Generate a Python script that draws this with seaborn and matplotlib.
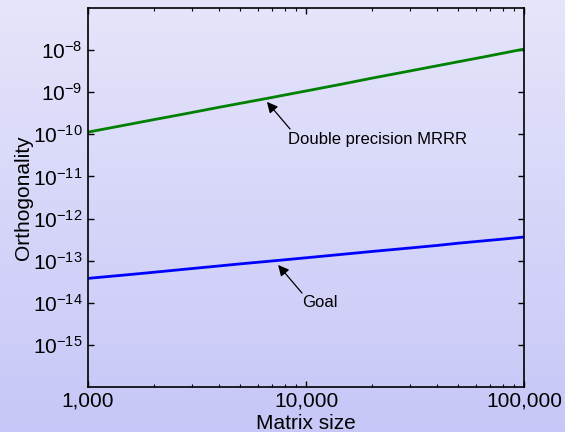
import numpy as np
import pandas as pd
import matplotlib
matplotlib.use("Agg")
import matplotlib.pyplot as plt
import seaborn as sns

sizes = [1000, 1500, 2000, 3000, 4000, 5000, 6500, 8000, 10000, 15000, 20000, 30000, 40000, 50000, 65000, 80000, 100000]
mrrr = [1.13e-10, 1.68e-10, 2.23e-10, 3.3e-10, 4.4e-10, 5.45e-10, 7.0e-10, 8.6e-10, 1.07e-9, 1.6e-9, 2.15e-9, 3.2e-9, 4.25e-9, 5.3e-9, 6.85e-9, 8.45e-9, 1.06e-8]
goal = [3.8e-14, 4.6e-14, 5.3e-14, 6.5e-14, 7.5e-14, 8.4e-14, 9.5e-14, 1.05e-13, 1.17e-13, 1.43e-13, 1.65e-13, 2.0e-13, 2.3e-13, 2.6e-13, 2.95e-13, 3.25e-13, 3.65e-13]
xtick_vals = [1000, 10000, 100000]
xtick_labels = ["1,000", "10,000", "100,000"]
ytick_exps = list(range(-15, -7))

df = pd.DataFrame({
    "n": sizes * 2,
    "val": mrrr + goal,
    "series": ["Double precision MRRR"] * len(sizes) + ["Goal"] * len(sizes),
})

sns.set_theme(style="white")
plt.rcParams['font.family'] = ['Liberation Sans', 'DejaVu Sans']
plt.rcParams['mathtext.fontset'] = 'custom'
plt.rcParams['mathtext.rm'] = 'Liberation Sans'
plt.rcParams['mathtext.it'] = 'Liberation Sans:italic'
plt.rcParams['mathtext.bf'] = 'Liberation Sans:bold'
plt.rcParams['text.color'] = 'black'
plt.rcParams['axes.labelcolor'] = 'black'
plt.rcParams['xtick.color'] = 'black'
plt.rcParams['ytick.color'] = 'black'

fig = plt.figure(figsize=(5.65, 4.32), dpi=100)
bg = fig.add_axes([0, 0, 1, 1], zorder=-10)
grad = np.linspace(0, 1, 256).reshape(-1, 1)
top = np.array([0.898, 0.898, 0.984])
bot = np.array([0.780, 0.780, 0.973])
img = top[None, None, :] * (1 - grad[:, :, None]) + bot[None, None, :] * grad[:, :, None]
bg.imshow(img, aspect='auto', extent=[0, 1, 0, 1])
bg.axis('off')

ax = fig.add_axes([88/565, 1 - 387/432, (524-88)/565, (387-8)/432])
ax.set_facecolor('none')
sns.lineplot(data=df, x="n", y="val", hue="series",
             palette={"Double precision MRRR": "#008000", "Goal": "#0000ff"},
             linewidth=2, legend=False, ax=ax)
ax.set_xscale('log')
ax.set_yscale('log')
ax.set_xlim(1000, 100000)
ax.set_ylim(1e-16, 1e-7)

ax.set_xticks(xtick_vals)
ax.set_xticklabels(xtick_labels)
ax.set_yticks([10.0**k for k in ytick_exps])
ax.set_yticklabels([f"$10^{{{k}}}$" for k in ytick_exps])
ax.yaxis.set_minor_locator(matplotlib.ticker.NullLocator())
ax.xaxis.set_minor_locator(matplotlib.ticker.LogLocator(base=10, subs=np.arange(2, 10)))
ax.xaxis.set_minor_formatter(matplotlib.ticker.NullFormatter())
ax.tick_params(axis='both', which='both', direction='in', top=True, right=True,
               bottom=True, left=True, color='black')
ax.tick_params(axis='both', which='major', length=4, width=1, labelsize=15, pad=3)
ax.tick_params(axis='y', which='major', pad=4)
ax.tick_params(axis='both', which='minor', length=2.5, width=0.8)
for s in ax.spines.values():
    s.set_color('black')
    s.set_linewidth(1.2)

ax.set_xlabel("Matrix size", fontsize=15, labelpad=3)
ax.set_ylabel("Orthogonality", fontsize=15, labelpad=0)

arrow = dict(arrowstyle='-|>', color='black', lw=0.9, mutation_scale=16, shrinkA=0, shrinkB=0)
ax.annotate("", xy=(6620, 5.9e-10), xytext=(8450, 1.34e-10), arrowprops=arrow)
ax.text(8300, 7.7e-11, "Double precision MRRR", fontsize=12, ha='left', va='center')
ax.annotate("", xy=(7450, 7.9e-14), xytext=(9590, 1.7e-14), arrowprops=arrow)
ax.text(9600, 9.9e-15, "Goal", fontsize=12, ha='left', va='center')

fig.savefig("out.png", dpi=100)
